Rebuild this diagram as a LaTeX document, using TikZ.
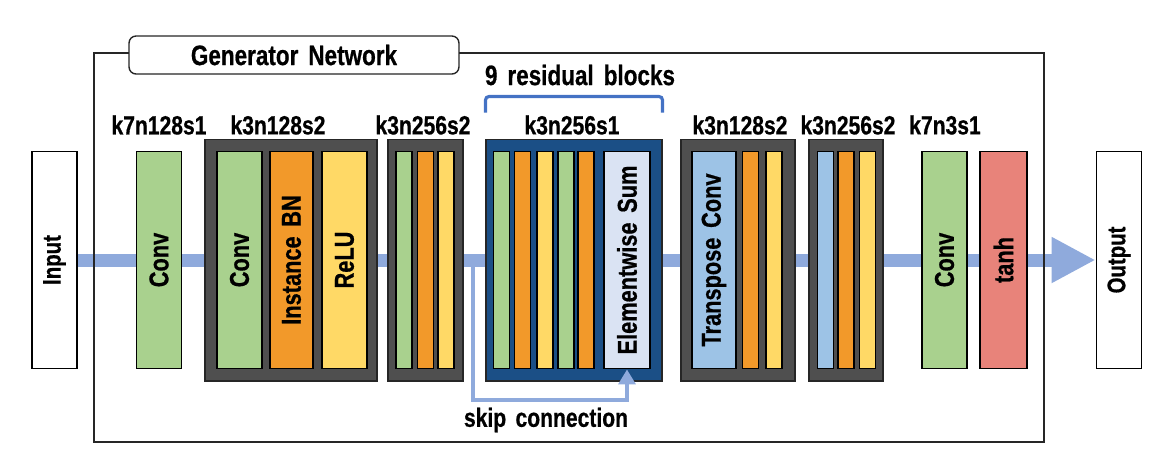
\documentclass[tikz,border=0pt]{standalone}
\usepackage{fontspec}
\setmainfont[FakeStretch=0.8, WordSpace=1.6, BoldFeatures={FakeBold=0.6}]{Liberation Sans}
\usetikzlibrary{arrows.meta}

\definecolor{convgreen}{HTML}{A9D18E}
\definecolor{normorange}{HTML}{F2992A}
\definecolor{reluyellow}{HTML}{FFD966}
\definecolor{stagegray}{HTML}{4F4F4F}
\definecolor{resblue}{HTML}{1B4F86}
\definecolor{sumblue}{HTML}{DAE3F3}
\definecolor{tconvblue}{HTML}{9DC3E6}
\definecolor{tanhred}{HTML}{E8837A}
\definecolor{flowblue}{HTML}{8FAADC}
\definecolor{bracketblue}{HTML}{4472C4}

\newcommand{\uptext}[1]{\rotatebox{90}{#1}}

\begin{document}
\begin{tikzpicture}[x=0.02cm, y=-0.02cm,
                    every node/.style={font=\bfseries\fontsize{15}{18}\selectfont},
                    layer/.style={draw=black, line width=1.1pt, inner sep=0pt,
                                  minimum height=4.34cm, minimum width=0.9cm,
                                  font=\bfseries\fontsize{15.5}{18}\selectfont},
                    slimlayer/.style={layer, minimum width=0.32cm},
                    stage/.style={draw=black!85, fill=stagegray, line width=0.6pt,
                                  inner sep=0pt, minimum height=4.84cm},
                    spec/.style={inner sep=1pt},
                    heading/.style={inner sep=1pt, font=\bfseries\fontsize{16}{19}\selectfont},
                    flow/.style={draw=flowblue, line width=0.26cm,
                                 -{Triangle[length=0.88cm, width=0.86cm]}},
                    skip/.style={draw=flowblue, line width=2pt,
                                 -{Triangle[length=0.3cm, width=0.34cm]}}]

\useasboundingbox (0,0) rectangle (1167,474);

% Input and output
\node[layer, fill=white, font=\bfseries\fontsize{14.5}{17}\selectfont] (in) at (54.5,260) {\uptext{Input}};
\node[layer, fill=white, font=\bfseries\fontsize{14.5}{17}\selectfont] (out) at (1119,260) {\uptext{Output}};
\draw[flow] (in) -- (out);

% Network frame
\node[draw=black!85, line width=0.8pt, inner sep=0pt, minimum width=19cm,
      minimum height=7.78cm] (net) at (569,247.5) {};
\node[heading, draw=black!85, line width=0.8pt, fill=white, rounded corners=4pt,
      minimum width=6.6cm, minimum height=0.76cm] (title) at (294,55) {Generator Network};

% First convolution
\node[spec] (spec1) at (159,125) {k7n128s1};
\node[layer, fill=convgreen] (conv1) at (159,260) {\uptext{Conv}};

% Downsampling
\node[spec] (spec2) at (278,125) {k3n128s2};
\node[stage, minimum width=3.44cm] (down1) at (291,260) {};
\node[layer, fill=convgreen] (down1a) at (239.5,260) {\uptext{Conv}};
\node[layer, minimum width=0.86cm, fill=normorange] (down1b) at (291.5,260) {\uptext{Instance BN}};
\node[layer, fill=reluyellow] (down1c) at (344.5,260) {\uptext{ReLU}};

\node[spec] (spec3) at (423,125) {k3n256s2};
\node[stage, minimum width=1.5cm] (down2) at (425.5,260) {};
\node[slimlayer, fill=convgreen] (down2a) at (404,260) {};
\node[slimlayer, fill=normorange] (down2b) at (425.5,260) {};
\node[slimlayer, fill=reluyellow] (down2c) at (446,260) {};

% Residual blocks
\node[heading] (resname) at (580,75) {9 residual blocks};
\node[spec] (spec4) at (572,125) {k3n256s1};
\node[stage, fill=resblue, minimum width=3.52cm] (res) at (574,260) {};
\node[slimlayer, fill=convgreen] (res1) at (501.5,260) {};
\node[slimlayer, fill=normorange] (res2) at (522.5,260) {};
\node[slimlayer, fill=reluyellow] (res3) at (545,260) {};
\node[slimlayer, fill=convgreen] (res4) at (566,260) {};
\node[slimlayer, fill=normorange] (res5) at (586,260) {};
\node[layer, minimum width=0.92cm, fill=sumblue] (sum) at (627,260) {\uptext{Elementwise Sum}};

\draw[bracketblue, line width=1.8pt, rounded corners=2pt]
  ([yshift=0.52cm]res.north west) |- ([yshift=0.84cm]res.north) -| ([yshift=0.52cm]res.north east);

% Upsampling
\node[spec] (spec5) at (740,125) {k3n128s2};
\node[stage, minimum width=2.28cm] (up1) at (738,260) {};
\node[layer, minimum width=0.88cm, fill=tconvblue] (up1a) at (714,260) {\uptext{Transpose Conv}};
\node[slimlayer, fill=normorange] (up1b) at (750.5,260) {};
\node[slimlayer, fill=reluyellow] (up1c) at (774,260) {};

\node[spec] (spec6) at (848,125) {k3n256s2};
\node[stage, minimum width=1.48cm] (up2) at (846,260) {};
\node[slimlayer, fill=tconvblue] (up2a) at (825.5,260) {};
\node[slimlayer, fill=normorange] (up2b) at (846,260) {};
\node[slimlayer, fill=reluyellow] (up2c) at (867.5,260) {};

% Last convolution
\node[spec] (spec7) at (945,125) {k7n3s1};
\node[layer, fill=convgreen] (conv2) at (944.5,260) {\uptext{Conv}};
\node[layer, minimum width=0.94cm, fill=tanhred] (tanh) at (1003.5,260) {\uptext{tanh}};

% Skip connection
\coordinate (branch) at (473,260);
\draw[skip] (branch) -- ++(0,140) -| (sum.south);
\node[spec] (skipname) at (546,420) {skip connection};

\end{tikzpicture}
\end{document}
